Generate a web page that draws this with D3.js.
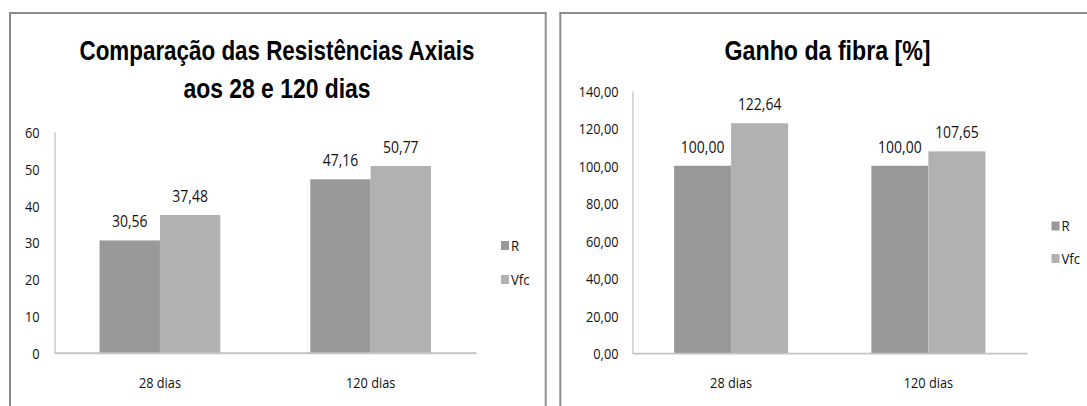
<!DOCTYPE html>
<html><head><meta charset="utf-8">
<script src="https://cdn.jsdelivr.net/npm/d3@7"></script>
<style>
html,body{margin:0;padding:0;background:#fff;}
svg{display:block;}
text{font-family:"Open Sans","Noto Sans",sans-serif;fill:#111;}
text.ttl{font-family:"Liberation Sans",Arial,sans-serif;}
</style></head>
<body>
<svg id="chart" width="1087" height="406"></svg>
<script>
// ---- data ----
const categories = ["28 dias", "120 dias"];
const seriesNames = ["R", "Vfc"];
const resistR = [30.56, 47.16];
const resistVfc = [37.48, 50.77];
const ganhoR = [100.00, 100.00];
const ganhoVfc = [122.64, 107.65];
const resistTicks = [0, 10, 20, 30, 40, 50, 60];
const ganhoTicks = [0, 20, 40, 60, 80, 100, 120, 140];
const titleResist = ["Comparação das Resistências Axiais", "aos 28 e 120 dias"];
const titleGanho = ["Ganho da fibra [%]"];

const colors = {R: "#999999", Vfc: "#b1b1b1"};
const svg = d3.select("#chart");
const fmt2 = v => v.toFixed(2).replace(".", ",");

// condense text horizontally to mimic a narrow (Calibri-like) face
function condense(sel, f) {
  sel.each(function () {
    const L = this.getComputedTextLength();
    d3.select(this).attr("textLength", L * f).attr("lengthAdjust", "spacingAndGlyphs");
  });
}

function panel(cfg) {
  const g = svg.append("g");
  g.append("rect").attr("x", cfg.frame[0]).attr("y", cfg.frame[1])
    .attr("width", cfg.frame[2]).attr("height", cfg.frame[3])
    .attr("fill", "#fff").attr("stroke", "#8c8c8c").attr("stroke-width", 2);
  cfg.title.forEach((t, i) => {
    g.append("text").attr("class", "ttl").attr("x", cfg.titleX).attr("y", cfg.titleY[i])
      .attr("text-anchor", "middle").attr("font-size", 28).attr("font-weight", "bold")
      .attr("textLength", cfg.titleW[i]).attr("lengthAdjust", "spacingAndGlyphs")
      .style("fill", "#000").text(t);
  });
  const x = d3.scaleBand().domain(categories).range([cfg.x0, cfg.x1]).padding(0);
  const xs = d3.scaleBand().domain(seriesNames).range([0, x.bandwidth()])
    .paddingInner(0).paddingOuter(cfg.pad);
  const y = d3.scaleLinear().domain(cfg.domain).range([cfg.y0, cfg.y1]);

  const ya = d3.axisLeft(y).tickValues(cfg.ticks).tickSize(0).tickPadding(cfg.tickPad)
    .tickFormat(cfg.tickFmt);
  const yg = g.append("g").attr("transform", `translate(${cfg.x0},0)`).call(ya);
  yg.attr("font-family", null).attr("font-size", null);
  yg.select(".domain").attr("stroke", "#c4c4c4").attr("stroke-width", 1.3);
  yg.selectAll("text").style("font-size", "15px").attr("dy", "0.36em").call(condense, 0.85);

  const xa = d3.axisBottom(x).tickSize(0).tickPadding(0);
  const xg = g.append("g").attr("transform", `translate(0,${cfg.y0})`).call(xa);
  xg.attr("font-family", null).attr("font-size", null);
  xg.select(".domain").attr("stroke", "#c4c4c4").attr("stroke-width", 1.3);
  xg.selectAll("text").style("font-size", "15px").attr("dy", null).attr("y", 35).call(condense, 0.85);

  const data = categories.map((c, i) => ({cat: c, vals: [
    {s: "R", v: cfg.r[i]}, {s: "Vfc", v: cfg.vfc[i]}]}));
  const grp = g.selectAll(".grp").data(data).join("g")
    .attr("transform", d => `translate(${x(d.cat)},0)`);
  grp.selectAll("rect").data(d => d.vals).join("rect")
    .attr("x", d => xs(d.s)).attr("width", xs.bandwidth())
    .attr("y", d => y(d.v)).attr("height", d => y(0) - y(d.v))
    .attr("fill", d => colors[d.s]);
  grp.selectAll("text.val").data(d => d.vals).join("text").attr("class", "val")
    .attr("x", d => xs(d.s) + xs.bandwidth() / 2).attr("y", d => y(d.v) - 13)
    .attr("text-anchor", "middle").style("font-size", "15.5px")
    .text(d => fmt2(d.v)).call(condense, 0.9);
  g.append("line").attr("x1", cfg.x0).attr("x2", cfg.x1).attr("y1", cfg.y0).attr("y2", cfg.y0)
    .attr("stroke", "#c4c4c4").attr("stroke-width", 1.3);

  seriesNames.forEach((s, i) => {
    const ly = cfg.legY + i * cfg.legGap;
    g.append("rect").attr("x", cfg.legX).attr("y", ly - 9).attr("width", 8).attr("height", 9)
      .attr("fill", colors[s]);
    g.append("text").attr("x", cfg.legX + 10).attr("y", ly + 0.5).style("font-size", "15px").text(s)
      .call(condense, 0.88);
  });
}

panel({
  frame: [10, 13, 535.7, 420],
  title: titleResist, titleX: 277, titleY: [60, 98], titleW: [395, 187],
  x0: 54.6, x1: 476, y0: 353, y1: 132, domain: [0, 60], pad: 0.745,
  ticks: resistTicks, tickPad: 15, tickFmt: d3.format("d"),
  r: resistR, vfc: resistVfc,
  legX: 501, legY: 250, legGap: 34
});
panel({
  frame: [560.3, 13, 560, 420],
  title: titleGanho, titleX: 827.6, titleY: [60], titleW: [206],
  x0: 632.5, x1: 1027, y0: 353.3, y1: 90.7, domain: [0, 140], pad: 0.73,
  ticks: ganhoTicks, tickPad: 14, tickFmt: fmt2,
  r: ganhoR, vfc: ganhoVfc,
  legX: 1051.5, legY: 230.5, legGap: 32.5
});
</script>
</body></html>
